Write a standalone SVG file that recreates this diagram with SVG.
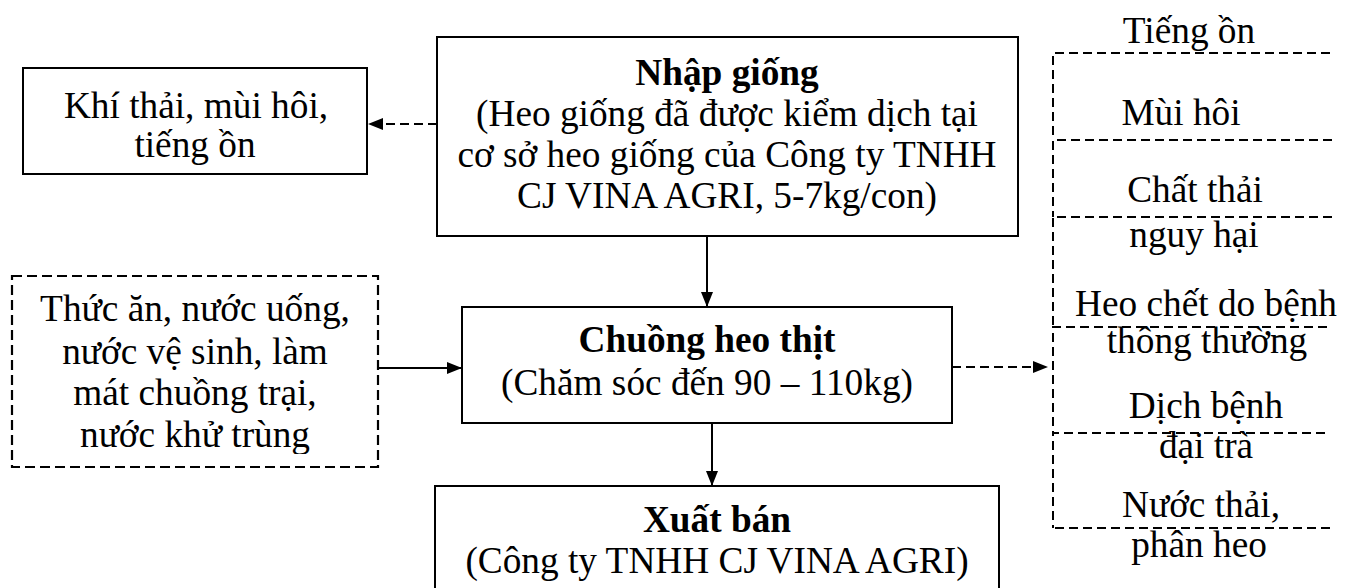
<svg xmlns="http://www.w3.org/2000/svg" width="1353" height="588" viewBox="0 0 1353 588">
<style>
text{font-family:"Liberation Serif","Times New Roman",serif;font-size:37.3px;fill:#000;text-anchor:middle}
.b{font-weight:bold}
.box{fill:#fff;stroke:#000;stroke-width:2}
.dbox{fill:none;stroke:#000;stroke-width:2.2;stroke-dasharray:10 5}
.dl{fill:none;stroke:#000;stroke-width:2;stroke-dasharray:9 5}
.ln{fill:none;stroke:#000;stroke-width:2}
</style>
<defs>
<marker id="ah" markerWidth="15" markerHeight="12" refX="15" refY="6" orient="auto" markerUnits="userSpaceOnUse">
<path d="M0,0 L15,6 L0,12 Z" fill="#000"/>
</marker>
<clipPath id="clipL"><rect x="12" y="276" width="366" height="178"/></clipPath>
</defs>
<rect width="1353" height="588" fill="#fff"/>
<g id="connectors">
<line class="dl" x1="437" y1="124" x2="368" y2="124" marker-end="url(#ah)"/>
<line class="ln" x1="707" y1="236" x2="707" y2="307" marker-end="url(#ah)"/>
<line class="ln" x1="378" y1="368" x2="462" y2="368" marker-end="url(#ah)"/>
<line class="dl" x1="952" y1="367" x2="1048" y2="367" marker-end="url(#ah)"/>
<line class="ln" x1="712" y1="423" x2="712" y2="486" marker-end="url(#ah)"/>
</g>
<g id="khithai">
<rect class="box" x="23" y="68" width="344" height="106"/>
<text x="196" y="118">Khí thải, mùi hôi,</text>
<text x="195" y="157">tiếng ồn</text>
</g>
<g id="nhapgiong">
<rect class="box" x="437" y="37" width="581" height="199"/>
<text class="b" x="727" y="85">Nhập giống</text>
<text x="727" y="126">(Heo giống đã được kiểm dịch tại</text>
<text x="727" y="167">cơ sở heo giống của Công ty TNHH</text>
<text x="727" y="208">CJ VINA AGRI, 5-7kg/con)</text>
</g>
<g id="dauvao">
<rect class="dbox" x="12" y="276" width="366" height="191"/>
<g clip-path="url(#clipL)">
<text x="195" y="321">Thức ăn, nước uống,</text>
<text x="195" y="364">nước vệ sinh, làm</text>
<text x="195" y="405">mát chuồng trại,</text>
<text x="195" y="447">nước khử trùng</text>
</g>
</g>
<g id="chuong">
<rect class="box" x="462" y="307" width="490" height="116"/>
<text class="b" x="707" y="352">Chuồng heo thịt</text>
<text x="707" y="395">(Chăm sóc đến 90 – 110kg)</text>
</g>
<g id="xuatban">
<rect class="box" x="435" y="486" width="564" height="120"/>
<text class="b" x="717" y="532">Xuất bán</text>
<text x="717" y="573">(Công ty TNHH CJ VINA AGRI)</text>
</g>
<g id="chatthai">
<path class="dl" d="M1330,53 H1053 V140"/>
<path class="dl" d="M1332,140 H1053 V217"/>
<path class="dl" d="M1332,217 H1053 V327"/>
<path class="dl" d="M1327,327 H1053 V433"/>
<path class="dl" d="M1325,433 H1053 V528"/>
<path class="dl" d="M1330,528 H1053"/>
<text x="1189" y="43">Tiếng ồn</text>
<text x="1181" y="125">Mùi hôi</text>
<text x="1195" y="202">Chất thải</text>
<text x="1194" y="247">nguy hại</text>
<text x="1206" y="316">Heo chết do bệnh</text>
<text x="1207" y="353">thông thường</text>
<text x="1206" y="418">Dịch bệnh</text>
<text x="1206" y="458">đại trà</text>
<text x="1201" y="517">Nước thải,</text>
<text x="1199" y="557">phân heo</text>
</g>
</svg>
